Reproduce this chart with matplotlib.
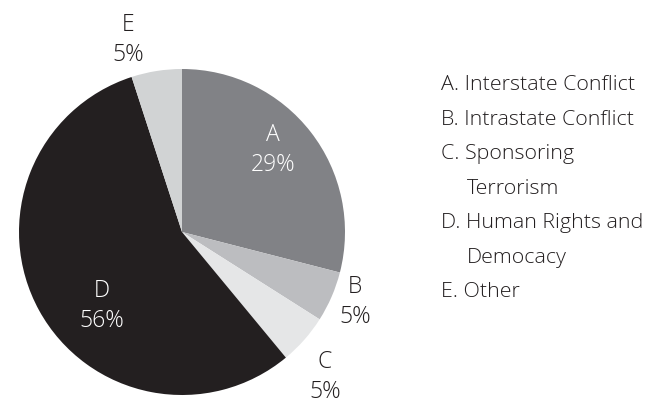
import matplotlib.pyplot as plt

plt.rcParams['font.family'] = ['Open Sans', 'DejaVu Sans']

letters = ["A", "B", "C", "D", "E"]
shares = [29, 5, 5, 56, 5]
names = ["Interstate Conflict", "Intrastate Conflict", "Sponsoring\nTerrorism",
         "Human Rights and\nDemocacy", "Other"]
colors = ["#818286", "#bcbdc0", "#e5e6e7", "#231f20", "#d1d3d4"]
label_colors = ["white", "#231f20", "#231f20", "white", "#231f20"]

fig = plt.figure(figsize=(6.65, 4.03), dpi=100)
W, H = 665, 403
cx, cy, r = 182, 232, 163
ax = fig.add_axes([(cx - r) / W, (H - cy - r) / H, 2 * r / W, 2 * r / H])
ax.pie(shares, colors=colors, startangle=90, counterclock=False, radius=1,
       wedgeprops=dict(linewidth=0))
ax.set_xlim(-1, 1)
ax.set_ylim(-1, 1)
ax.set_aspect('equal')
ax.axis('off')

# label spots (data units of the pie axes)
label_pos = [(0.558, 0.503), (1.061, -0.429), (0.877, -0.890),
             (-0.491, -0.454), (-0.331, 1.178)]
for letter, val, (x, y), c in zip(letters, shares, label_pos, label_colors):
    ax.text(x, y, f"{letter}\n{val}%", ha='center', va='center', fontsize=16.5,
            color=c, linespacing=1.3, clip_on=False, fontweight='light')

# legend on the right
line_y = 85
step = 34.5
for letter, name in zip(letters, names):
    parts = name.split("\n")
    fig.text(441 / W, 1 - line_y / H, f"{letter}. {parts[0]}", ha='left',
             va='center', fontsize=15.4, color="#231f20", fontweight='light')
    line_y += step
    for extra in parts[1:]:
        fig.text(467 / W, 1 - line_y / H, extra, ha='left', va='center',
                 fontsize=15.4, color="#231f20", fontweight='light')
        line_y += step

fig.savefig("out.png", dpi=100, facecolor="white")
